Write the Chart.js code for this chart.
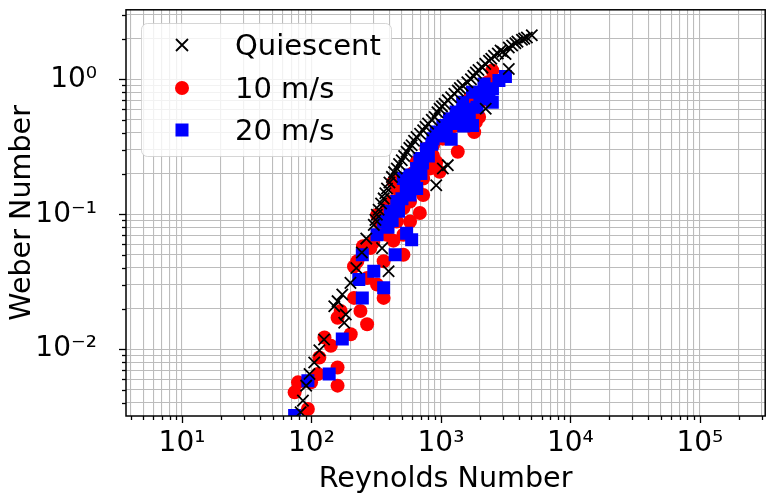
<!DOCTYPE html>
<html>
<head>
<meta charset="utf-8">
<script src="https://cdn.jsdelivr.net/npm/chart.js@4/dist/chart.umd.min.js"></script>
<style>
  html, body { margin: 0; padding: 0; background: #fff; }
  #wrap { width: 775px; height: 497px; }
</style>
</head>
<body>
<div id="wrap"><canvas id="chart" width="775" height="497"></canvas></div>
<script>
// values
const quiescentRe = [5036, 4613, 4400, 4227, 3900, 3758, 3550, 3343, 3155, 2890, 3000, 2750, 2570, 3343, 2450,
  2352, 2200, 2092, 1950, 1860, 1780, 1705, 1600, 1472, 1400, 1349, 1270, 1199, 1130, 1067, 1020, 977, 940,
  895, 850, 796, 760, 729, 690, 648, 620, 594, 570, 543, 520, 498, 475, 456, 435, 418, 400, 383, 372, 361,
  345, 330, 320, 312, 303, 351, 394, 265, 245, 222, 200, 173, 159, 150, 184, 179, 125, 115, 105, 96.6, 91,
  85.9, 82.4, 920, 1035, 1130, 2218];
const quiescentWe = [2.12, 2.04, 2.0, 1.96, 1.9, 1.85, 1.78, 1.72, 1.54, 1.63, 1.6, 1.55, 1.49, 1.19, 1.42,
  1.37, 1.3, 1.22, 1.17, 1.12, 1.06, 1.0, 0.95, 0.897, 0.86, 0.824, 0.78, 0.736, 0.7, 0.658, 0.63, 0.604, 0.57,
  0.525, 0.5, 0.469, 0.445, 0.418, 0.395, 0.373, 0.35, 0.324, 0.31, 0.29, 0.27, 0.251, 0.235, 0.218, 0.205,
  0.189, 0.172, 0.155, 0.143, 0.131, 0.12, 0.108, 0.099, 0.0908, 0.0834, 0.0561, 0.0378, 0.066, 0.052, 0.04,
  0.031, 0.0254, 0.0227, 0.0208, 0.0181, 0.0157, 0.0118, 0.0098, 0.00798, 0.00655, 0.00537, 0.00416, 0.00341,
  0.164, 0.218, 0.231, 0.604];

const ms10Re = [2494, 2218, 1972, 1807, 1472, 1349, 1164, 977, 920, 869, 729, 773, 687, 649, 577, 513, 543,
  456, 456, 383, 430, 321, 383, 285, 226, 361, 269, 321, 361, 213, 239, 269, 168, 159, 126, 141, 201, 115,
  112, 159, 159, 74.1, 78.7, 93.8, 99.3, 213, 513, 430, 1862, 1656, 1309, 1035, 819, 729, 649, 577, 513, 869,
  1862, 300, 340, 250, 420, 600, 2300, 2100];
const ms10We = [1.16, 0.779, 0.525, 0.406, 0.482, 0.29, 0.384, 0.206, 0.244, 0.324, 0.139, 0.306, 0.102,
  0.244, 0.0883, 0.0705, 0.184, 0.0883, 0.155, 0.0705, 0.174, 0.0989, 0.111, 0.0561, 0.0448, 0.0448, 0.0337,
  0.0301, 0.024, 0.024, 0.0192, 0.0153, 0.0192, 0.0171, 0.0122, 0.0106, 0.0129, 0.00867, 0.00655, 0.00732,
  0.00537, 0.00479, 0.00568, 0.00361, 0.00568, 0.041, 0.0501, 0.0637, 0.621, 0.716, 0.455, 0.363, 0.218,
  0.184, 0.155, 0.124, 0.111, 0.27, 0.482, 0.062, 0.085, 0.058, 0.125, 0.2, 0.95, 0.7];

const ms20Re = [2805, 2153, 2350, 1754, 1472, 1309, 1164, 1035, 920, 1656, 1754, 869, 773, 687, 649, 577,
  513, 649, 577, 456, 406, 361, 321, 543, 594, 443, 247, 303, 232, 361, 247, 173, 137, 93.8, 74.1, 2500, 2000,
  1900, 1600, 1400, 1250, 1100, 980, 850, 800, 720, 700, 620, 540, 500, 470, 420, 390, 1500, 1200, 3150, 2494];
const ms20We = [0.977, 0.923, 0.716, 0.802, 0.676, 0.571, 0.51, 0.455, 0.406, 0.51, 0.455, 0.363, 0.306,
  0.259, 0.218, 0.195, 0.184, 0.155, 0.139, 0.124, 0.105, 0.0883, 0.0705, 0.0724, 0.0648, 0.0501, 0.0501,
  0.0378, 0.0328, 0.0285, 0.024, 0.0119, 0.00655, 0.00584, 0.00323, 0.85, 0.75, 0.62, 0.6, 0.54, 0.47, 0.42,
  0.38, 0.33, 0.27, 0.24, 0.2, 0.17, 0.15, 0.13, 0.105, 0.09, 0.08, 0.45, 0.36, 1.05, 0.676];

const seriesLabels = ['Quiescent', '10 m/s', '20 m/s'];

const xMajorTicks = [10, 100, 1000, 10000, 100000];
const xTickLabels = ['10¹', '10²', '10³', '10⁴', '10⁵'];
const yMajorTicks = [0.01, 0.1, 1];
const yTickLabels = ['10⁻²', '10⁻¹', '10⁰'];

const X_MIN = 3.69, X_MAX = 3.2e5;
const Y_MIN = 3.2e-3, Y_MAX = 3.27;
const FONT = 'DejaVu Sans';

function toPoints(xs, ys) {
  return xs.map((x, i) => ({ x: x, y: ys[i] }));
}

function isMajor(v, majors) {
  return majors.some(m => Math.abs(v / m - 1) < 1e-6);
}

// every 1..9 x 10^k between min and max, for the log grid
function logTicks(min, max) {
  const out = [];
  for (let k = Math.floor(Math.log10(min)); k <= Math.ceil(Math.log10(max)); k++) {
    for (let m = 1; m < 10; m++) {
      const v = parseFloat((m * Math.pow(10, k)).toPrecision(6));
      if (v >= min && v <= max) out.push({ value: v });
    }
  }
  return out;
}

function labelFor(v, majors, labels) {
  const i = majors.findIndex(m => Math.abs(v / m - 1) < 1e-6);
  return i >= 0 ? labels[i] : '';
}

// spines and outward tick marks, like the matplotlib axes
const axesFrame = {
  id: 'axesFrame',
  afterDatasetsDraw(chart) {
    const { ctx, chartArea: a } = chart;
    const xs = chart.scales.x, ys = chart.scales.y;
    ctx.save();
    ctx.strokeStyle = '#000';
    ctx.lineWidth = 1.3;
    xs.ticks.forEach(t => {
      const px = Math.round(xs.getPixelForValue(t.value)) + 0.5;
      const len = isMajor(t.value, xMajorTicks) ? 7 : 4;
      ctx.beginPath();
      ctx.moveTo(px, a.bottom);
      ctx.lineTo(px, a.bottom + len);
      ctx.stroke();
    });
    ys.ticks.forEach(t => {
      const py = Math.round(ys.getPixelForValue(t.value)) + 0.5;
      const len = isMajor(t.value, yMajorTicks) ? 7 : 4;
      ctx.beginPath();
      ctx.moveTo(a.left, py);
      ctx.lineTo(a.left - len, py);
      ctx.stroke();
    });
    ctx.lineWidth = 1.5;
    ctx.strokeRect(a.left, a.top, a.right - a.left, a.bottom - a.top);
    ctx.restore();
  }
};

// legend box in the upper left corner of the axes
const boxLegend = {
  id: 'boxLegend',
  afterDraw(chart) {
    const ctx = chart.ctx;
    const x0 = 141.5, y0 = 23.5, w = 250, h = 133, r = 6;
    ctx.save();
    ctx.beginPath();
    ctx.moveTo(x0 + r, y0);
    ctx.arcTo(x0 + w, y0, x0 + w, y0 + h, r);
    ctx.arcTo(x0 + w, y0 + h, x0, y0 + h, r);
    ctx.arcTo(x0, y0 + h, x0, y0, r);
    ctx.arcTo(x0, y0, x0 + w, y0, r);
    ctx.closePath();
    ctx.fillStyle = 'rgba(255,255,255,0.8)';
    ctx.fill();
    ctx.strokeStyle = 'rgba(204,204,204,0.8)';
    ctx.lineWidth = 1;
    ctx.stroke();

    const rows = [45, 88, 130];
    const mx = 182;
    ctx.font = '29px "' + FONT + '"';
    ctx.textBaseline = 'alphabetic';
    ctx.textAlign = 'left';
    seriesLabels.forEach((label, i) => {
      const y = rows[i];
      if (i === 0) {
        ctx.strokeStyle = '#000';
        ctx.lineWidth = 1.8;
        ctx.beginPath();
        ctx.moveTo(mx - 6, y - 6); ctx.lineTo(mx + 6, y + 6);
        ctx.moveTo(mx - 6, y + 6); ctx.lineTo(mx + 6, y - 6);
        ctx.stroke();
      } else if (i === 1) {
        ctx.fillStyle = '#ff0000';
        ctx.beginPath();
        ctx.arc(mx, y, 7, 0, Math.PI * 2);
        ctx.fill();
      } else {
        ctx.fillStyle = '#0000ff';
        ctx.fillRect(mx - 6.5, y - 6.5, 13, 13);
      }
      ctx.fillStyle = '#000';
      ctx.fillText(label, 235, y + 10);
    });
    ctx.restore();
  }
};

Chart.defaults.font.family = FONT;
Chart.defaults.color = '#000';

const ctx = document.getElementById('chart').getContext('2d');
const chart = new Chart(ctx, {
  type: 'scatter',
  data: {
    datasets: [{
      label: seriesLabels[0],
      data: toPoints(quiescentRe, quiescentWe),
      pointStyle: 'crossRot',
      pointRadius: 8,
      pointBorderWidth: 1.8,
      pointBorderColor: '#000',
      pointBackgroundColor: '#000',
      order: 0,
      clip: 0,
    }, {
      label: seriesLabels[1],
      data: toPoints(ms10Re, ms10We),
      pointStyle: 'circle',
      pointRadius: 7,
      pointBorderWidth: 0,
      pointBackgroundColor: '#ff0000',
      order: 2,
      clip: 0,
    }, {
      label: seriesLabels[2],
      data: toPoints(ms20Re, ms20We),
      pointStyle: 'rect',
      pointRadius: 9.2,
      pointBorderWidth: 0,
      pointBackgroundColor: '#0000ff',
      order: 1,
      clip: 0,
    }],
  },
  options: {
    responsive: false,
    maintainAspectRatio: false,
    animation: false,
    events: [],
    layout: { padding: { top: 7, right: 2, left: 0, bottom: 0 } },
    plugins: {
      legend: { display: false },
      tooltip: { enabled: false },
    },
    scales: {
      x: {
        type: 'logarithmic',
        min: X_MIN,
        max: X_MAX,
        border: { display: false },
        grid: { color: '#bcbcbc', lineWidth: 1.1, drawTicks: false },
        ticks: {
          autoSkip: false,
          maxRotation: 0,
          padding: 11,
          font: { size: 28 },
          callback: v => labelFor(v, xMajorTicks, xTickLabels),
        },
        afterBuildTicks: scale => { scale.ticks = logTicks(X_MIN, X_MAX); },
        afterFit: scale => {
          scale.height = 81;
          scale.paddingLeft = 0;
          scale.paddingRight = 0;
        },
        title: {
          display: true,
          text: 'Reynolds Number',
          font: { size: 28.6 },
          padding: { top: 0, bottom: 0 },
        },
      },
      y: {
        type: 'logarithmic',
        min: Y_MIN,
        max: Y_MAX,
        border: { display: false },
        grid: { color: '#bcbcbc', lineWidth: 1.1, drawTicks: false },
        ticks: {
          autoSkip: false,
          padding: 29,
          font: { size: 28 },
          callback: v => labelFor(v, yMajorTicks, yTickLabels),
        },
        afterBuildTicks: scale => { scale.ticks = logTicks(Y_MIN, Y_MAX); },
        afterFit: scale => {
          scale.width = 126;
          scale.paddingTop = 0;
          scale.paddingBottom = 0;
        },
        title: {
          display: true,
          text: 'Weber Number',
          font: { size: 28.6 },
          padding: { top: 5, bottom: 0 },
        },
      },
    },
  },
  plugins: [axesFrame, boxLegend],
});
</script>
</body>
</html>
